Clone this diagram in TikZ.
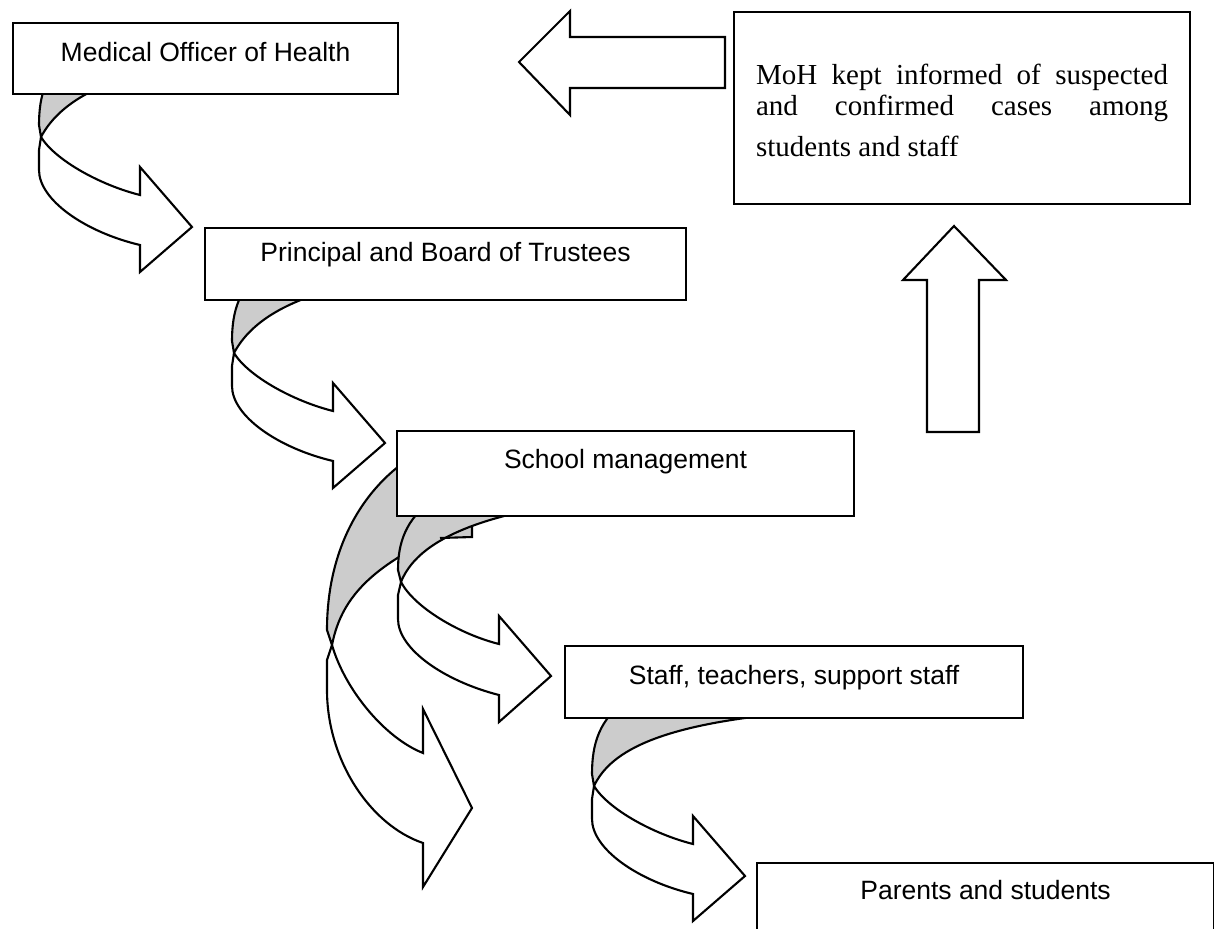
\documentclass[tikz,border=0pt]{standalone}
\usepackage{fontspec}
\newfontfamily\arialfont{Liberation Sans}
\newfontfamily\timesfont{Liberation Serif}
\begin{document}
\begin{tikzpicture}[x=1pt,y=-1pt,line width=2.1pt,line join=miter,
  box/.style={draw,fill=white,inner xsep=0pt,inner ysep=0pt,anchor=north west,
    font=\arialfont\fontsize{26.5}{30}\selectfont},
  back/.style={draw,fill=black!20},
  front/.style={draw,fill=white},
  blockarrow/.style={draw,fill=white}]
\path[use as bounding box] (0,0) rectangle (1214,928);
\clip (0,0) rectangle (1214,928);

% block arrows
\draw[blockarrow] (725,37) -- (570,37) -- (570,11) -- (519,62) -- (570,115) -- (570,88) -- (725,88) -- cycle;
\draw[blockarrow] (927,432) -- (927,280) -- (903,280) -- (954,226) -- (1006,280) -- (979,280) -- (979,432) -- cycle;

% ribbon 1: MoH -> Principal
\draw[back] (75,50) .. controls (46,70) and (39,95) .. (39,125) -- (41,137)
  .. controls (58,105) and (100,75) .. (200,62) -- (200,50) -- cycle;
\draw[front] (41,137) -- (39,150) -- (39,170) .. controls (39,200) and (85,232) .. (140,245)
  -- (140,272) -- (192,227) -- (140,167) -- (140,195) .. controls (100,185) and (55,160) .. (41,137) -- cycle;

% ribbon 2: Principal -> School
\draw[back] (268,266) .. controls (239,286) and (232,311) .. (232,341) -- (234,353)
  .. controls (251,321) and (293,291) .. (393,278) -- (393,266) -- cycle;
\draw[front] (234,353) -- (232,366) -- (232,386) .. controls (232,416) and (278,448) .. (333,461)
  -- (333,488) -- (385,443) -- (333,383) -- (333,411) .. controls (293,401) and (248,376) .. (234,353) -- cycle;

% ribbon 3 (large): School -> down
\draw[back] (420,452) .. controls (370,480) and (327,540) .. (327,630) -- (332,645)
  .. controls (342,595) and (375,548) .. (540,500) -- (540,452) -- cycle;
\draw[front] (332,645) -- (327,660) -- (327,690) .. controls (327,760) and (370,825) .. (423,843)
  -- (423,887) -- (472,808) -- (423,709) -- (423,753) .. controls (385,738) and (345,690) .. (332,645) -- cycle;

% ribbon 3 (small): School -> Staff
\fill[black!20] (440,538) -- (472,537) -- (472,527) -- cycle;
\draw[back] (434,499) .. controls (405,519) and (398,544) .. (398,570) -- (401,582)
  .. controls (413,552) and (450,525) .. (540,508) -- (540,499) -- cycle;
\draw (440,538) -- (472,537) -- (472,527);
\draw[front] (401,582) -- (398,595) -- (398,619) .. controls (398,649) and (444,681) .. (499,695)
  -- (499,722) -- (551,676) -- (499,616) -- (499,644) .. controls (459,634) and (414,607) .. (401,582) -- cycle;

% ribbon 4: Staff -> Parents
\draw[back] (628,699) .. controls (599,719) and (592,744) .. (592,774) -- (594,786)
  .. controls (611,750) and (663,722) .. (813,711) -- (813,699) -- cycle;
\draw[front] (594,786) -- (592,799) -- (592,819) .. controls (592,849) and (638,881) .. (693,894)
  -- (693,921) -- (745,876) -- (693,816) -- (693,844) .. controls (653,834) and (608,809) .. (594,786) -- cycle;

% boxes
\node[box,minimum width=385pt,text height=38pt,text depth=33pt] (moh) at (12,22) {Medical Officer of Health};
\node[box,minimum width=481pt,text height=33pt,text depth=39pt] (principal) at (204,227) {Principal and Board of Trustees};
\node[box,minimum width=457pt,text height=37pt,text depth=48pt] (school) at (396,430) {School management};
\node[box,minimum width=458pt,text height=38pt,text depth=34pt] (staff) at (564,645) {Staff, teachers, support staff};
\node[box,minimum width=457pt,text height=36pt,text depth=60pt] (parents) at (756,862) {Parents and students};
\node[box,inner xsep=22pt,text height=72pt,text depth=120pt,
  font=\timesfont\fontsize{29}{31}\selectfont] (kept) at (733,11)
  {\parbox[t]{412pt}{\makebox[412pt][s]{MoH kept informed of suspected}\\
   \makebox[412pt][s]{and confirmed cases among}\\[10pt]
   students and staff}};
\end{tikzpicture}
\end{document}
